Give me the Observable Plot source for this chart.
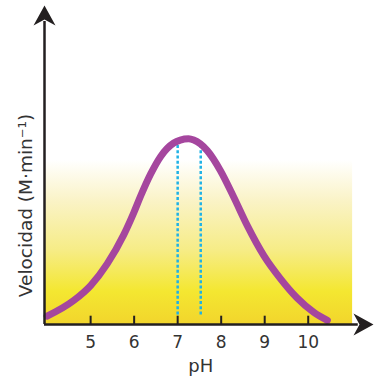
<!DOCTYPE html>
<html>
<head>
<meta charset="utf-8">
<script src="https://cdn.jsdelivr.net/npm/d3@7"></script>
<script src="https://cdn.jsdelivr.net/npm/@observablehq/plot@0.6"></script>
<style>
  html, body { margin: 0; padding: 0; background: #fff; }
  #chart { width: 375px; height: 376px; }
</style>
</head>
<body>
<div id="chart"></div>
<script>
// Data
const phValues = [4.0, 4.61, 5.0, 5.38, 5.76, 5.99, 6.15, 6.38, 6.61, 6.91, 7.06, 7.25, 7.37, 7.68, 7.98, 8.29, 8.60, 8.98, 9.36, 9.74, 10.13, 10.44];
const velocity = [2.6, 7.5, 12.2, 19.0, 28.1, 35.0, 40.3, 47.2, 52.7, 56.9, 57.8, 58.2, 57.8, 54.5, 48.3, 39.9, 31.0, 21.6, 14.4, 8.4, 3.8, 1.3];
const tickLabels = [5, 6, 7, 8, 9, 10];
const optimumPH = [7.0, 7.53];
const optimumTop = [57, 56];
const xLabel = "pH";
const yLabel = "Velocidad (M·min⁻¹)";

const curve = phValues.map((x, i) => ({x, y: velocity[i]}));
const optima = optimumPH.map((x, i) => ({x, y: optimumTop[i]}));

const xMin = 3.94, xMax = 11.5, yMax = 100;
const bandRight = 11.02, bandTop = 51.4;

// concave arrowhead symbol pointing up
const arrowSymbol = {
  draw(ctx, size) {
    const h = 20, w = 11;
    ctx.moveTo(0, -h / 2);
    ctx.lineTo(w, h / 2);
    ctx.lineTo(0, h / 2 - 6);
    ctx.lineTo(-w, h / 2);
    ctx.closePath();
  }
};

const defs = () => {
  const ns = "http://www.w3.org/2000/svg";
  const d = document.createElementNS(ns, "defs");
  d.innerHTML = `<linearGradient id="bandGrad" x1="0" y1="0" x2="0" y2="1">
    <stop offset="0" stop-color="#ffffff"/>
    <stop offset="0.25" stop-color="#faf3c6"/>
    <stop offset="0.55" stop-color="#f6ec86"/>
    <stop offset="0.8" stop-color="#f4e731"/>
    <stop offset="1" stop-color="#f2d52c"/>
  </linearGradient>`;
  return d;
};

const plot = Plot.plot({
  width: 375,
  height: 376,
  marginLeft: 44,
  marginRight: 2,
  marginTop: 5,
  marginBottom: 52,
  style: {fontFamily: "DejaVu Sans, sans-serif", background: "#fff", overflow: "visible"},
  x: {type: "linear", domain: [xMin, xMax], axis: null},
  y: {type: "linear", domain: [0, yMax], axis: null},
  marks: [
    defs,
    Plot.rect([{}], {x1: xMin, x2: bandRight, y1: 0, y2: bandTop, fill: "url(#bandGrad)"}),
    Plot.ruleX(optima, {x: "x", y1: 3, y2: "y", stroke: "#1fb2e6", strokeWidth: 2.5, strokeDasharray: "3,2.2"}),
    Plot.line(curve, {x: "x", y: "y", curve: "monotone-x", stroke: "#a5469e", strokeWidth: 7, strokeLinecap: "round"}),
    // axes
    Plot.ruleY([0], {x1: xMin, x2: xMax - 0.35, stroke: "#231f20", strokeWidth: 2.5}),
    Plot.ruleX([xMin], {y1: 0, y2: yMax - 5, stroke: "#231f20", strokeWidth: 2.5}),
    Plot.dot([{x: xMax - 0.23, y: 0}], {x: "x", y: "y", symbol: arrowSymbol, rotate: 90, fill: "#231f20", stroke: null}),
    Plot.dot([{x: xMin, y: yMax - 3.1}], {x: "x", y: "y", symbol: arrowSymbol, fill: "#231f20", stroke: null}),
    Plot.ruleX(tickLabels, {x: d => d, y1: 0, y2: 2.6, stroke: "#231f20", strokeWidth: 2}),
    Plot.text(tickLabels, {x: d => d, y: 0, dy: 18, text: d => String(d), fontSize: 17, fill: "#333", textAnchor: "middle"}),
    Plot.text([xLabel], {x: 7.53, y: 0, dy: 42, text: d => d, fontSize: 18, fill: "#333"}),
    Plot.text([yLabel], {x: xMin, y: 37.3, dx: -18, rotate: -90, text: d => d, fontSize: 18.5, fill: "#333"})
  ]
});
document.getElementById("chart").appendChild(plot);
</script>
</body>
</html>
